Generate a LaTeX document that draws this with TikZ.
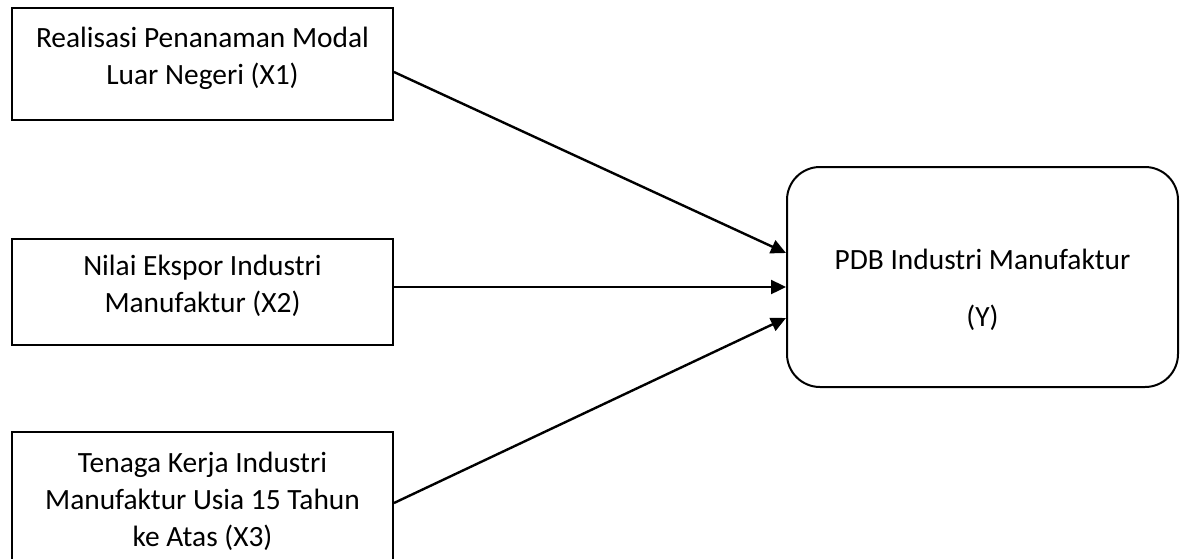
\documentclass[tikz,border=0pt]{standalone}
\usepackage{fontspec}
\setmainfont{Carlito}
\usepackage{tikz}
\usetikzlibrary{arrows.meta,calc,positioning,shapes}

\tikzset{
  varbox/.style={rectangle,draw,line width=1pt,minimum width=190.5pt,align=center,
    font=\fontsize{14.7pt}{18.5pt}\selectfont,
    execute at end node={\rule[-8pt]{0pt}{0pt}}},
  ybox/.style={rectangle,draw,line width=1pt,rounded corners=16.5pt,minimum width=195.5pt,
    minimum height=110pt,align=center,font=\fontsize{14.7pt}{18.5pt}\selectfont},
  arr/.style={line width=1.2pt,-{Triangle[length=7.5pt,width=7pt]}}
}

\begin{document}
\begin{tikzpicture}[x=0.5pt,y=-0.5pt]
    \useasboundingbox (0,0) rectangle (1185,558);
    \clip (0,0) rectangle (1185,558);
    % independent variables
    \node[varbox,minimum height=56pt] (x1) at (202.5,64) {Realisasi Penanaman Modal\\Luar Negeri (X1)};
    \node[varbox,minimum height=53pt] (x2) at (202.5,292) {Nilai Ekspor Industri\\Manufaktur (X2)};
    \node[varbox,minimum height=75pt] (x3) at (202.5,507) {Tenaga Kerja Industri\\Manufaktur Usia 15 Tahun\\ke Atas (X3)};
    % dependent variable
    \node[ybox] (y) at (982.5,277) {\rule{0pt}{23pt}PDB Industri Manufaktur\\[10pt](Y)};
    % arrows
    \draw[arr] ([yshift=-4pt]x1.east) -- ([yshift=12pt]y.west);
    \draw[arr] ([yshift=2.5pt]x2.east) -- ([yshift=-5pt]y.west);
    \draw[arr] ([yshift=2pt]x3.east) -- ([yshift=-20.5pt]y.west);
  \end{tikzpicture}
\end{document}
